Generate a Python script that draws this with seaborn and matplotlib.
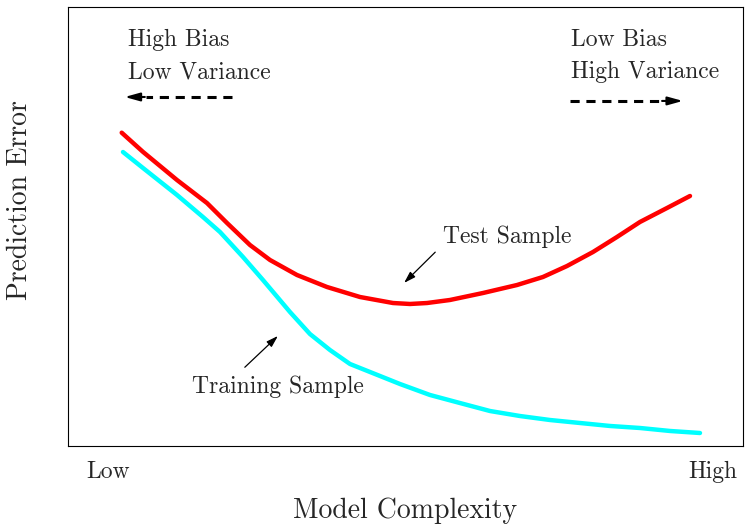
import numpy as np
import pandas as pd
import matplotlib
matplotlib.use("Agg")
import matplotlib.pyplot as plt
import seaborn as sns

# curve values (x: complexity 0-100, y: error 0-100)
test_complexity = [7.96, 11.11, 16.15, 20.59, 23.56, 26.96, 29.93, 33.93, 38.37,
                   43.26, 48.15, 50.67, 53.19, 56.59, 61.48, 66.52, 70.37, 73.93,
                   77.78, 81.33, 84.74, 88.74, 92.15]
test_error = [71.37, 67.0, 60.59, 55.35, 50.80, 45.79, 42.37, 38.95, 36.22,
              33.94, 32.57, 32.35, 32.57, 33.26, 34.85, 36.67, 38.50, 41.00,
              44.19, 47.61, 51.03, 54.21, 56.95]

train_complexity = [8.15, 11.11, 16.15, 20.0, 22.52, 25.93, 28.89, 32.89, 35.85,
                    38.81, 41.78, 46.22, 49.19, 53.63, 58.07, 62.52, 66.96, 71.41,
                    75.85, 80.30, 84.74, 89.19, 93.63]
train_error = [66.97, 63.33, 57.18, 52.16, 48.75, 43.05, 37.81, 30.52, 25.51,
               21.87, 18.68, 15.95, 14.12, 11.62, 9.79, 7.97, 6.83, 5.92,
               5.24, 4.56, 4.10, 3.42, 2.96]

tick_pos = [6.0, 95.5]
tick_labels = ["Low", "High"]

sns.set_style("white")
plt.rcParams["font.family"] = ["cmr10", "DejaVu Serif"]
plt.rcParams["axes.formatter.use_mathtext"] = True

fig = plt.figure(figsize=(7.56, 5.30), dpi=100)
ax = fig.add_axes([0.0899, 0.1585, 0.8929, 0.8283])

test_df = pd.DataFrame({"x": test_complexity, "y": test_error})
train_df = pd.DataFrame({"x": train_complexity, "y": train_error})
sns.lineplot(data=test_df, x="x", y="y", color="#ff0000", linewidth=3.2,
             sort=False, ax=ax)
sns.lineplot(data=train_df, x="x", y="y", color="#00ffff", linewidth=3.2,
             sort=False, ax=ax)

ax.set_xlim(0, 100)
ax.set_ylim(0, 100)
ax.set_xticks(tick_pos)
ax.set_xticklabels(tick_labels, fontsize=17)
ax.set_yticks([])
ax.tick_params(axis="x", length=0, pad=11)
ax.set_xlabel("Model Complexity", fontsize=20, labelpad=10)
ax.set_ylabel("Prediction Error", fontsize=20)
ax.yaxis.set_label_coords(-0.052, 0.56)
for s in ax.spines.values():
    s.set_color("black")
    s.set_linewidth(0.8)

fs = 17
# corner texts
ax.text(8.9, 92.5, "High Bias", fontsize=fs, ha="left", va="center")
ax.text(8.9, 85.2, "Low Variance", fontsize=fs, ha="left", va="center")
ax.text(74.5, 92.5, "Low Bias", fontsize=fs, ha="left", va="center")
ax.text(74.5, 85.2, "High Variance", fontsize=fs, ha="left", va="center")

# dashed direction arrows
ax.plot([24.3, 11.5], [79.5, 79.5], color="black", lw=2.2, ls=(0, (3, 2.2)))
ax.annotate("", xy=(8.0, 79.5), xytext=(11.8, 79.5),
            arrowprops=dict(arrowstyle="-|>,head_length=0.9,head_width=0.25",
                            color="black", lw=1.5))
ax.plot([74.4, 87.5], [78.6, 78.6], color="black", lw=2.2, ls=(0, (3, 2.2)))
ax.annotate("", xy=(91.5, 78.6), xytext=(87.6, 78.6),
            arrowprops=dict(arrowstyle="-|>,head_length=0.9,head_width=0.25",
                            color="black", lw=1.5))

# curve labels
ax.annotate("", xy=(49.5, 36.7), xytext=(54.7, 44.6),
            arrowprops=dict(arrowstyle="-|>,head_length=0.7,head_width=0.22",
                            color="black", lw=0.9))
ax.text(55.5, 47.6, "Test Sample", fontsize=fs, ha="left", va="center")
ax.annotate("", xy=(31.4, 25.5), xytext=(25.9, 17.5),
            arrowprops=dict(arrowstyle="-|>,head_length=0.7,head_width=0.22",
                            color="black", lw=0.9))
ax.text(18.4, 13.6, "Training Sample", fontsize=fs, ha="left", va="center")

fig.savefig("out.png", dpi=100)
